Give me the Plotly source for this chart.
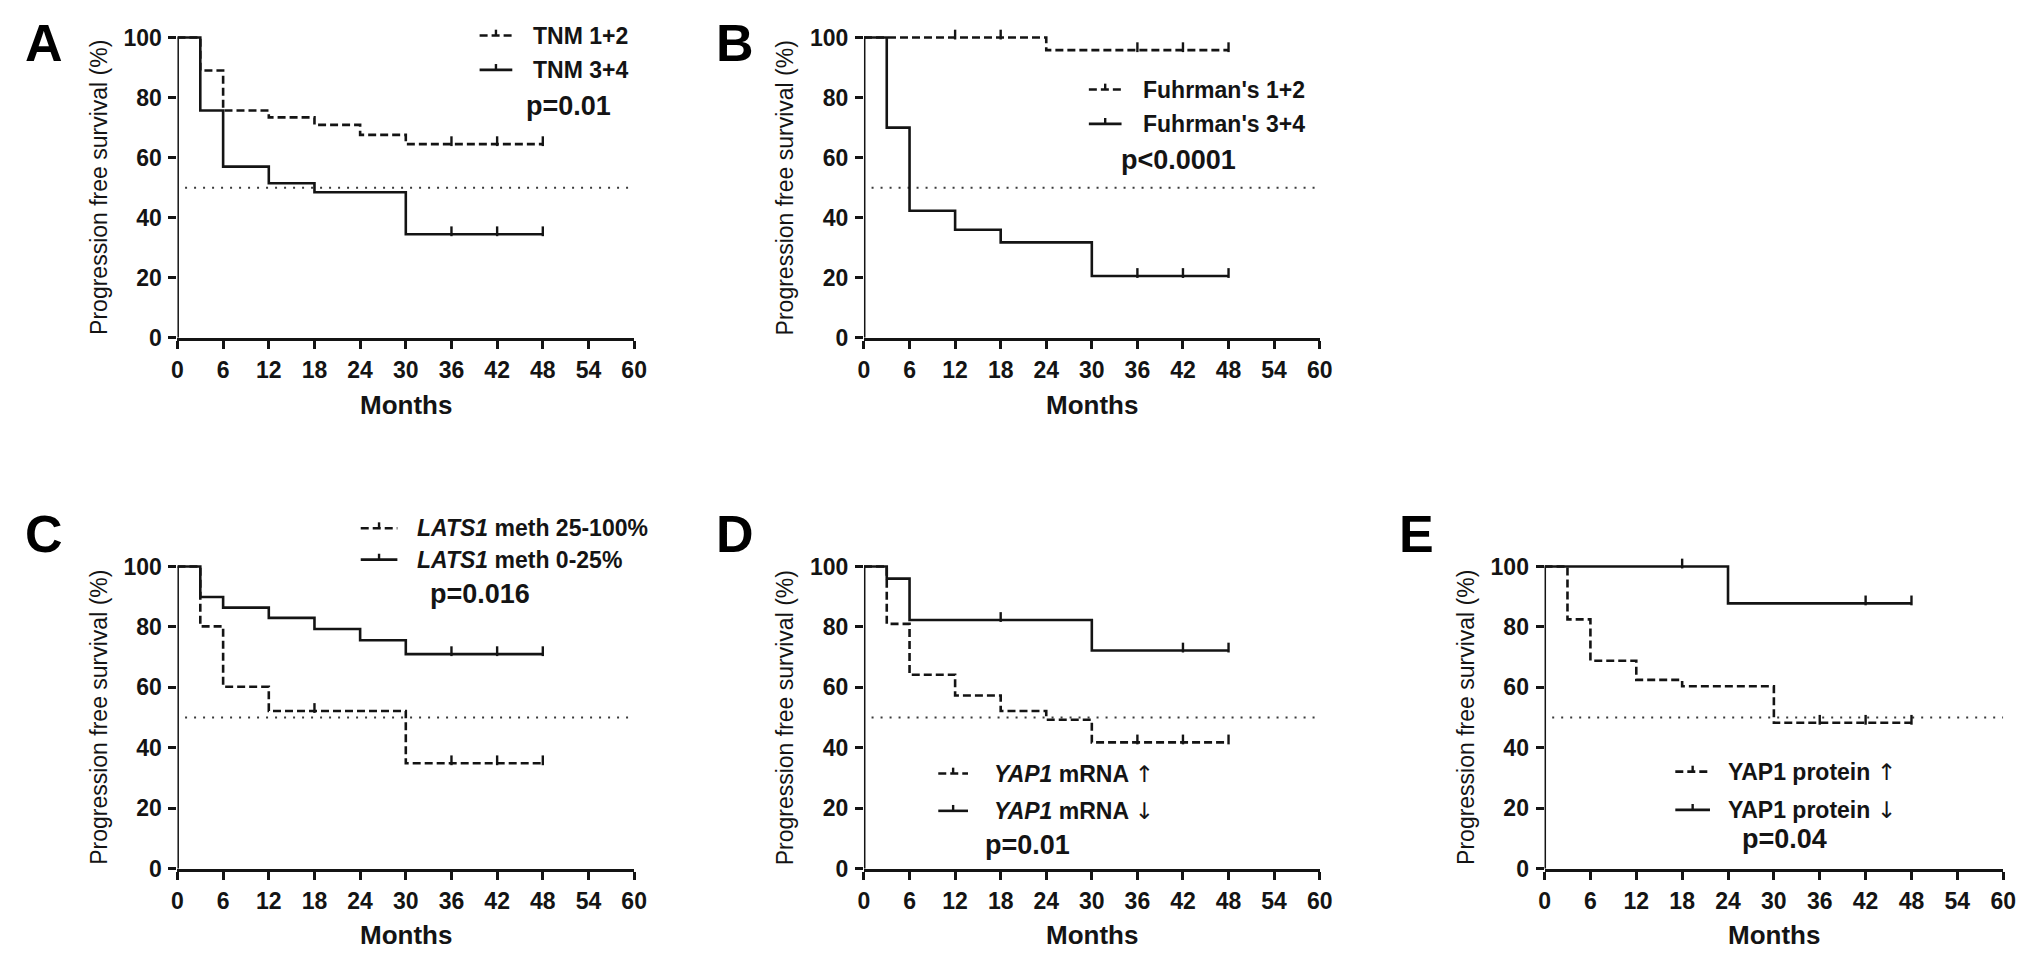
import numpy as np
import plotly.graph_objects as go

# ------------------------------------------------------------------ data
X_TICKS = [0, 6, 12, 18, 24, 30, 36, 42, 48, 54, 60]
Y_TICKS = [0, 20, 40, 60, 80, 100]
MEDIAN_LEVEL = 50
X_TITLE = "Months"
Y_TITLE = "Progression free survival (%)"

UP = "<span style=\"font-family:'DejaVu Sans';font-weight:normal\">\u2191</span>"
DOWN = "<span style=\"font-family:'DejaVu Sans';font-weight:normal\">\u2193</span>"

# Panel A - TNM stage
A_NAMES = ["TNM 1+2", "TNM 3+4"]
A_PVAL = "p=0.01"
A_DASH_T = [0, 3, 6, 12, 18, 24, 30, 48]
A_DASH_S = [100, 89.0, 75.7, 73.4, 70.9, 67.6, 64.5, 64.5]
A_DASH_CENS = [36, 42, 48]
A_SOLID_T = [0, 3, 6, 12, 18, 30, 48]
A_SOLID_S = [100, 75.7, 57.0, 51.5, 48.5, 34.5, 34.5]
A_SOLID_CENS = [36, 42, 48]

# Panel B - Fuhrman grade
B_NAMES = ["Fuhrman's 1+2", "Fuhrman's 3+4"]
B_PVAL = "p&lt;0.0001"
B_DASH_T = [0, 24, 48]
B_DASH_S = [100, 95.8, 95.8]
B_DASH_CENS = [12, 18, 36, 42, 48]
B_SOLID_T = [0, 3, 6, 12, 18, 30, 48]
B_SOLID_S = [100, 70.0, 42.3, 36.0, 31.8, 20.6, 20.6]
B_SOLID_CENS = [36, 42, 48]

# Panel C - LATS1 methylation
C_NAMES = ["<i>LATS1</i> meth 25-100%", "<i>LATS1</i> meth 0-25%"]
C_PVAL = "p=0.016"
C_DASH_T = [0, 3, 6, 12, 30, 48]
C_DASH_S = [100, 80.2, 60.2, 52.2, 34.9, 34.9]
C_DASH_CENS = [18, 36, 42, 48]
C_SOLID_T = [0, 3, 6, 12, 18, 24, 30, 48]
C_SOLID_S = [100, 89.9, 86.4, 83.0, 79.3, 75.6, 71.0, 71.0]
C_SOLID_CENS = [36, 42, 48]

# Panel D - YAP1 mRNA
D_NAMES = ["<i>YAP1</i> mRNA " + UP, "<i>YAP1</i> mRNA " + DOWN]
D_PVAL = "p=0.01"
D_DASH_T = [0, 3, 6, 12, 18, 24, 30, 48]
D_DASH_S = [100, 81.0, 64.2, 57.3, 52.2, 49.3, 41.8, 41.8]
D_DASH_CENS = [36, 42, 48]
D_SOLID_T = [0, 3, 6, 30, 48]
D_SOLID_S = [100, 96.0, 82.3, 72.2, 72.2]
D_SOLID_CENS = [18, 42, 48]

# Panel E - YAP1 protein
E_NAMES = ["YAP1 protein " + UP, "YAP1 protein " + DOWN]
E_PVAL = "p=0.04"
E_DASH_T = [0, 3, 6, 12, 18, 30, 48]
E_DASH_S = [100, 82.5, 68.8, 62.5, 60.4, 48.3, 48.3]
E_DASH_CENS = [36, 42, 48]
E_SOLID_T = [0, 24, 48]
E_SOLID_S = [100, 87.8, 87.8]
E_SOLID_CENS = [18, 42, 48]

# ------------------------------------------------------------------ style / layout (pixels)
W, H = 2031, 966
FONT = "Liberation Sans, Arial, sans-serif"
INK = "#141414"
DASH = "8px,4px"
DOT = "2px,7px"
Y_HEADROOM = 2.5  # extra range above 100 so the top line is not clipped

GEOM = {
    "A": dict(x0=165, x1=626, top=25, bot=331, letter=(30, 31), sym=(470, 503), tx=522, rows=(23, 58), p=(515, 95)),
    "B": dict(x0=858, x1=1318, top=25, bot=331, letter=(728, 31), sym=(1085, 1118), tx=1138, rows=(78, 113), p=(1115, 150)),
    "C": dict(x0=165, x1=626, top=564, bot=872, letter=(30, 531), sym=(350, 387), tx=405, rows=(525, 557), p=(418, 592)),
    "D": dict(x0=858, x1=1318, top=564, bot=872, letter=(728, 531), sym=(933, 963), tx=987, rows=(775, 813), p=(978, 848)),
    "E": dict(x0=1545, x1=2008, top=564, bot=872, letter=(1416, 531), sym=(1677, 1712), tx=1728, rows=(773, 812), p=(1742, 842)),
}

PANELS = [
    ("A", A_NAMES, A_PVAL, (A_DASH_T, A_DASH_S, A_DASH_CENS), (A_SOLID_T, A_SOLID_S, A_SOLID_CENS)),
    ("B", B_NAMES, B_PVAL, (B_DASH_T, B_DASH_S, B_DASH_CENS), (B_SOLID_T, B_SOLID_S, B_SOLID_CENS)),
    ("C", C_NAMES, C_PVAL, (C_DASH_T, C_DASH_S, C_DASH_CENS), (C_SOLID_T, C_SOLID_S, C_SOLID_CENS)),
    ("D", D_NAMES, D_PVAL, (D_DASH_T, D_DASH_S, D_DASH_CENS), (D_SOLID_T, D_SOLID_S, D_SOLID_CENS)),
    ("E", E_NAMES, E_PVAL, (E_DASH_T, E_DASH_S, E_DASH_CENS), (E_SOLID_T, E_SOLID_S, E_SOLID_CENS)),
]


def px_x(v):
    return v / W


def px_y(v):
    return 1 - v / H


def censor_y(t, s, c):
    t = np.asarray(t, dtype=float)
    s = np.asarray(s, dtype=float)
    idx = np.searchsorted(t, np.asarray(c, dtype=float), side="right") - 1
    return s[idx]


fig = go.Figure()
shapes = []
annotations = []

for i, (letter, names, pval, dash_curve, solid_curve) in enumerate(PANELS, start=1):
    g = GEOM[letter]
    xa = "x" if i == 1 else f"x{i}"
    ya = "y" if i == 1 else f"y{i}"
    xkey = "xaxis" if i == 1 else f"xaxis{i}"
    ykey = "yaxis" if i == 1 else f"yaxis{i}"
    ymax = Y_TICKS[-1]
    unit_px = (g["bot"] - g["top"]) / ymax
    top_px = g["bot"] - (ymax + Y_HEADROOM) * unit_px

    fig.update_layout({
        xkey: dict(domain=[px_x(g["x0"]), px_x(g["x1"])], range=[X_TICKS[0], X_TICKS[-1]], anchor=ya,
                   tickmode="array", tickvals=X_TICKS, ticktext=[str(v) for v in X_TICKS],
                   ticks="outside", ticklen=8, tickwidth=2.5, tickcolor=INK,
                   showline=True, linewidth=3, linecolor=INK, showgrid=False, zeroline=False,
                   tickfont=dict(family=FONT, size=23, color=INK, weight="bold"),
                   ticklabelstandoff=2, fixedrange=True),
        ykey: dict(domain=[px_y(g["bot"]), px_y(top_px)], range=[Y_TICKS[0], ymax + Y_HEADROOM], anchor=xa,
                   tickmode="array", tickvals=Y_TICKS, ticktext=[str(v) for v in Y_TICKS],
                   ticks="outside", ticklen=8, tickwidth=2.5, tickcolor=INK,
                   showline=False, showgrid=False, zeroline=False,
                   tickfont=dict(family=FONT, size=23, color=INK, weight="bold"),
                   ticklabelstandoff=2, fixedrange=True),
    })

    # y axis line from 0 to 100 only
    shapes.append(dict(type="line", xref=xa, yref=ya, x0=X_TICKS[0], x1=X_TICKS[0],
                       y0=Y_TICKS[0], y1=ymax, line=dict(color=INK, width=3), layer="above"))
    # 50 % reference line
    shapes.append(dict(type="line", xref=xa, yref=ya, x0=1, x1=X_TICKS[-1],
                       y0=MEDIAN_LEVEL, y1=MEDIAN_LEVEL, line=dict(color="#3a3a3a", width=2, dash=DOT),
                       layer="below"))

    for (t, s, cens), dash in ((dash_curve, DASH), (solid_curve, "solid")):
        fig.add_trace(go.Scatter(x=t, y=s, mode="lines", xaxis=xa, yaxis=ya,
                                 line=dict(shape="hv", color=INK, width=2.6, dash=dash),
                                 showlegend=False, hoverinfo="skip"))
        cy = censor_y(t, s, cens) + 3 / unit_px
        fig.add_trace(go.Scatter(x=cens, y=cy, mode="markers", xaxis=xa, yaxis=ya,
                                 marker=dict(symbol="line-ns", size=7, line=dict(width=2.4, color=INK)),
                                 showlegend=False, hoverinfo="skip", cliponaxis=False))

    # legend (manual)
    sx0, sx1 = g["sym"]
    for row_y, dash, name in zip(g["rows"], (DASH, "solid"), names):
        shapes.append(dict(type="line", xref="paper", yref="paper", x0=px_x(sx0), x1=px_x(sx1),
                           y0=px_y(row_y), y1=px_y(row_y), line=dict(color=INK, width=2.6, dash=dash)))
        cx = (sx0 + sx1) / 2
        shapes.append(dict(type="line", xref="paper", yref="paper", x0=px_x(cx), x1=px_x(cx),
                           y0=px_y(row_y), y1=px_y(row_y - 6), line=dict(color=INK, width=2.4)))
        annotations.append(dict(xref="paper", yref="paper", x=px_x(g["tx"]), y=px_y(row_y),
                                xanchor="left", yanchor="middle", showarrow=False,
                                text=f"<b>{name}</b>", font=dict(family=FONT, size=23, color=INK)))
    annotations.append(dict(xref="paper", yref="paper", x=px_x(g["p"][0]), y=px_y(g["p"][1]),
                            xanchor="left", yanchor="middle", showarrow=False,
                            text=f"<b>{pval}</b>", font=dict(family=FONT, size=27, color=INK)))

    # panel letter
    annotations.append(dict(xref="paper", yref="paper", x=px_x(g["letter"][0]), y=px_y(g["letter"][1]),
                            xanchor="center", yanchor="middle", showarrow=False,
                            text=f"<b>{letter}</b>", font=dict(family=FONT, size=52, color="#000")))
    # axis titles
    annotations.append(dict(xref="paper", yref="paper", x=px_x(g["x0"] - 80), y=px_y((g["top"] + g["bot"]) / 2),
                            xanchor="center", yanchor="middle", showarrow=False, textangle=-90,
                            text=Y_TITLE, font=dict(family=FONT, size=23, color=INK)))
    annotations.append(dict(xref="paper", yref="paper", x=px_x((g["x0"] + g["x1"]) / 2), y=px_y(g["bot"] + 68),
                            xanchor="center", yanchor="middle", showarrow=False,
                            text=f"<b>{X_TITLE}</b>", font=dict(family=FONT, size=26, color=INK)))

fig.update_layout(width=W, height=H, margin=dict(l=0, r=0, t=0, b=0),
                  paper_bgcolor="white", plot_bgcolor="white",
                  shapes=shapes, annotations=annotations, showlegend=False,
                  font=dict(family=FONT, color=INK))

fig.write_html("out.html")
